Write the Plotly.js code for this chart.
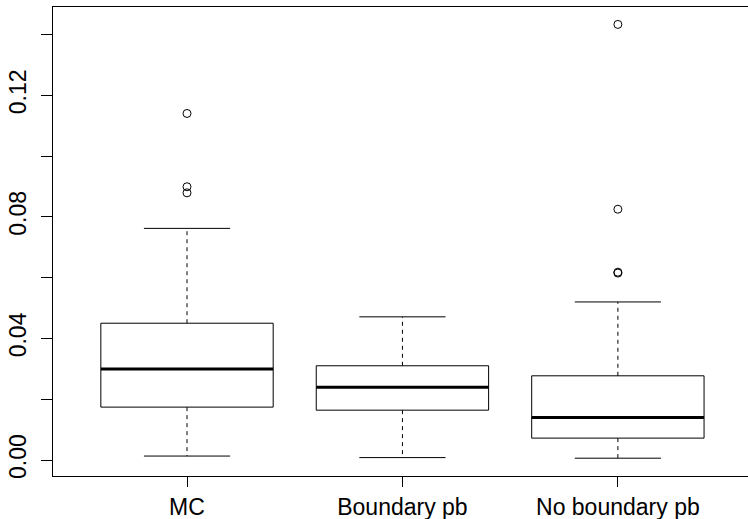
<!DOCTYPE html>
<html>
<head>
<meta charset="utf-8">
<script src="https://cdn.plot.ly/plotly-3.0.1.min.js"></script>
<style>html,body{margin:0;padding:0;background:#fff;}#chart{width:748px;height:519px;}</style>
</head>
<body>
<div id="chart"></div>
<script>
// Data
var categories = ["MC", "Boundary pb", "No boundary pb"];
var lowerWhisker = [0.0013, 0.0008, 0.0006];
var q1Values = [0.0174, 0.0164, 0.0072];
var medianValues = [0.0299, 0.0239, 0.0140];
var q3Values = [0.0450, 0.0310, 0.0277];
var upperWhisker = [0.0762, 0.0471, 0.0520];
var outliersMC = [0.1140, 0.0899, 0.0879];
var outliersBoundary = [];
var outliersNoBoundary = [0.1433, 0.0825, 0.0618, 0.0615];
var yTickValues = [0, 0.02, 0.04, 0.06, 0.08, 0.10, 0.12, 0.14];
var yTickLabels = ["0.00", "", "0.04", "", "0.08", "", "0.12", ""];

var outlierGroups = [outliersMC, outliersBoundary, outliersNoBoundary];
var boxHalf = 0.4, stapleHalf = 0.2;

var whX = [], whY = [], bxX = [], bxY = [], mdX = [], mdY = [], stX = [], stY = [], olX = [], olY = [];
categories.forEach(function (c, i) {
  var p = i + 1;
  whX.push(p, p, null, p, p, null);
  whY.push(q3Values[i], upperWhisker[i], null, q1Values[i], lowerWhisker[i], null);
  bxX.push(p - boxHalf, p + boxHalf, p + boxHalf, p - boxHalf, p - boxHalf, null);
  bxY.push(q1Values[i], q1Values[i], q3Values[i], q3Values[i], q1Values[i], null);
  mdX.push(p - boxHalf, p + boxHalf, null);
  mdY.push(medianValues[i], medianValues[i], null);
  stX.push(p - stapleHalf, p + stapleHalf, null, p - stapleHalf, p + stapleHalf, null);
  stY.push(upperWhisker[i], upperWhisker[i], null, lowerWhisker[i], lowerWhisker[i], null);
  outlierGroups[i].forEach(function (v) { olX.push(p); olY.push(v); });
});

var traces = [
  {x: whX, y: whY, mode: "lines", line: {color: "#000", width: 1, dash: "4px,4px"}, hoverinfo: "skip"},
  {x: bxX, y: bxY, mode: "lines", line: {color: "#000", width: 1}, hoverinfo: "skip"},
  {x: mdX, y: mdY, mode: "lines", line: {color: "#000", width: 3}, hoverinfo: "skip"},
  {x: stX, y: stY, mode: "lines", line: {color: "#000", width: 1}, hoverinfo: "skip"},
  {x: olX, y: olY, mode: "markers", marker: {symbol: "circle-open", size: 8, color: "#000", line: {width: 1, color: "#000"}}}
];

var layout = {
  width: 748, height: 519,
  margin: {l: 53, r: 0, t: 7, b: 43, pad: 0},
  paper_bgcolor: "#fff", plot_bgcolor: "#fff",
  showlegend: false,
  font: {family: "Liberation Sans, Arial, sans-serif", color: "#000"},
  xaxis: {
    range: [0.378, 3.604], tickmode: "array", tickvals: [1, 2, 3], ticktext: categories,
    showgrid: false, zeroline: false, showline: true, linecolor: "#000", linewidth: 1, mirror: true,
    ticks: "outside", ticklen: 10, tickcolor: "#000", tickwidth: 1,
    tickfont: {size: 23, family: "Liberation Sans, Arial, sans-serif", color: "#000"}
  },
  yaxis: {
    range: [-0.00526, 0.14903], tickmode: "array", tickvals: yTickValues, ticktext: yTickLabels,
    showgrid: false, zeroline: false, showline: true, linecolor: "#000", linewidth: 1,
    ticks: "outside", ticklen: 11, tickcolor: "#000", tickwidth: 1, tickangle: -90,
    ticklabelstandoff: 6,
    tickfont: {size: 23, family: "Liberation Sans, Arial, sans-serif", color: "#000"}
  }
};

Plotly.newPlot("chart", traces, layout, {staticPlot: true, displayModeBar: false});
</script>
</body>
</html>
